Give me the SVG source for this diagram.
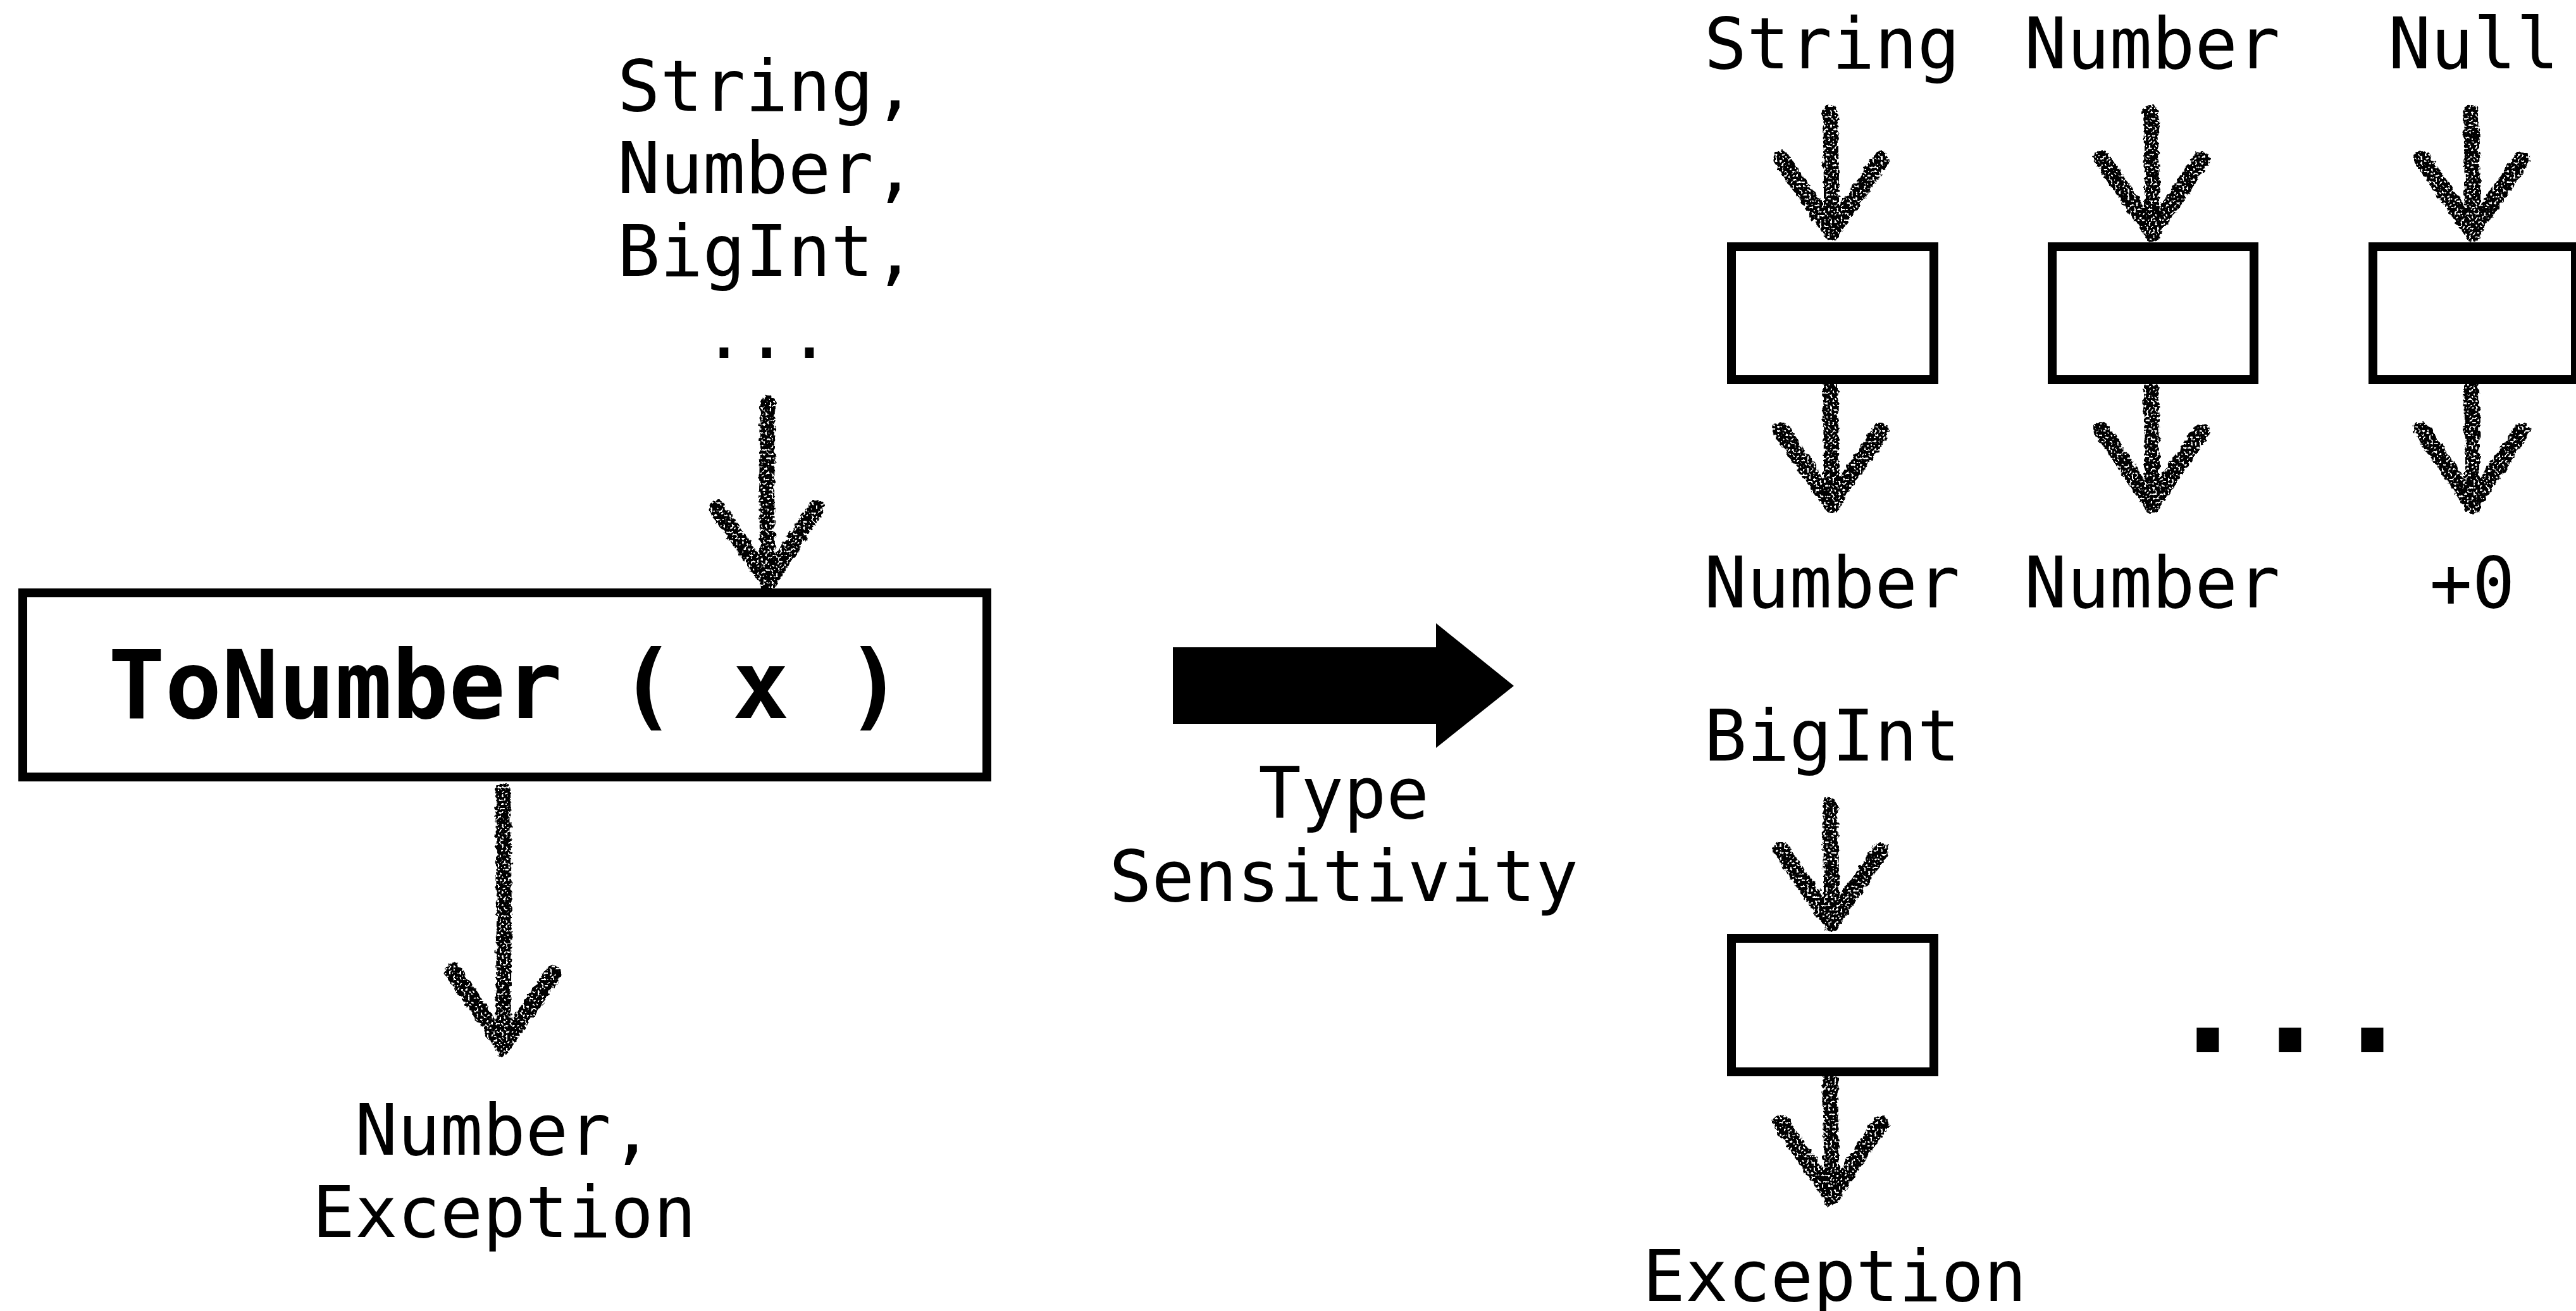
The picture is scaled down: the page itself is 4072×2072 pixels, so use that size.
<svg xmlns="http://www.w3.org/2000/svg" width="4072" height="2072" viewBox="0 0 4072 2072">
<style>
  text { font-family: "DejaVu Sans Mono", "Liberation Mono", monospace; fill: #000; }
  .lbl { font-size: 112px; text-anchor: middle; }
  .title { font-size: 149px; font-weight: bold; text-anchor: middle; }
  .dots { font-size: 216px; font-weight: bold; text-anchor: middle; }
  .box { fill: #fff; stroke: #000; stroke-width: 14; }
  .chalk { fill: none; stroke: #000; stroke-width: 24; stroke-linecap: round; stroke-linejoin: round; }
</style>
<defs>
  <filter id="rough" filterUnits="userSpaceOnUse" x="0" y="0" width="4072" height="2072">
    <feTurbulence type="fractalNoise" baseFrequency="0.12" numOctaves="2" seed="3" result="n"/>
    <feDisplacementMap in="SourceGraphic" in2="n" scale="10" xChannelSelector="R" yChannelSelector="G" result="d"/>
    <feTurbulence type="fractalNoise" baseFrequency="0.3" numOctaves="1" seed="7" result="h"/>
    <feColorMatrix in="h" type="matrix" values="0 0 0 0 0  0 0 0 0 0  0 0 0 0 0  0 0 0 -14 9" result="holes"/>
    <feComposite in="d" in2="holes" operator="in"/>
  </filter>
  <marker id="head" markerUnits="userSpaceOnUse" viewBox="-140 -100 160 200" refX="0" refY="0" markerWidth="160" markerHeight="200" orient="auto" overflow="visible">
    <path d="M -118,-78 L -4,0 L -120,80" fill="none" stroke="#000" stroke-width="26" stroke-linecap="round" stroke-linejoin="round"/>
  </marker>
</defs>

<g id="connectors" filter="url(#rough)">
  <path class="chalk" d="M 1214,636 L 1212,780 L 1214,922" marker-end="url(#head)"/>
  <path class="chalk" d="M 795,1250 L 797,1450 L 795,1656" marker-end="url(#head)"/>
  <path class="chalk" d="M 2893,178 L 2895,290 L 2895,370" marker-end="url(#head)"/>
  <path class="chalk" d="M 2893,612 L 2895,720 L 2895,800" marker-end="url(#head)"/>
  <path class="chalk" d="M 3400,178 L 3402,290 L 3402,370" marker-end="url(#head)"/>
  <path class="chalk" d="M 3400,612 L 3402,720 L 3402,800" marker-end="url(#head)"/>
  <path class="chalk" d="M 3906,178 L 3908,290 L 3908,370" marker-end="url(#head)"/>
  <path class="chalk" d="M 3906,612 L 3908,720 L 3908,800" marker-end="url(#head)"/>
  <path class="chalk" d="M 2893,1272 L 2895,1380 L 2895,1462" marker-end="url(#head)"/>
  <path class="chalk" d="M 2893,1706 L 2895,1810 L 2895,1894" marker-end="url(#head)"/>
</g>

<g id="inputs-label">
  <text class="lbl" x="1212" y="175">String,</text>
  <text class="lbl" x="1212" y="305">Number,</text>
  <text class="lbl" x="1212" y="436">BigInt,</text>
  <text class="lbl" x="1212" y="566">...</text>
</g>

<g id="tonumber">
  <rect class="box" x="36" y="937" width="1524" height="291"/>
  <text class="title" x="799" y="1135">ToNumber ( x )</text>
</g>

<g id="outputs-label">
  <text class="lbl" x="797" y="1825">Number,</text>
  <text class="lbl" x="797" y="1955">Exception</text>
</g>

<g id="type-sensitivity">
  <polygon points="1854,1023 2270,1023 2270,985 2393,1084 2270,1182 2270,1144 1854,1144" fill="#000"/>
  <text class="lbl" x="2124" y="1293">Type</text>
  <text class="lbl" x="2124" y="1424">Sensitivity</text>
</g>

<g id="case-string">
  <text class="lbl" x="2896" y="108">String</text>
  <rect class="box" x="2737" y="390" width="320" height="210"/>
  <text class="lbl" x="2896" y="960">Number</text>
</g>

<g id="case-number">
  <text class="lbl" x="3402" y="108">Number</text>
  <rect class="box" x="3244" y="390" width="319" height="210"/>
  <text class="lbl" x="3402" y="960">Number</text>
</g>

<g id="case-null">
  <text class="lbl" x="3910" y="108">Null</text>
  <rect class="box" x="3751" y="390" width="320" height="210"/>
  <text class="lbl" x="3908" y="960">+0</text>
</g>

<g id="case-bigint">
  <text class="lbl" x="2896" y="1202">BigInt</text>
  <rect class="box" x="2737" y="1483" width="320" height="211"/>
  <text class="lbl" x="2900" y="2056">Exception</text>
</g>

<g id="more-cases">
  <text class="dots" x="3620" y="1663">...</text>
</g>
</svg>
